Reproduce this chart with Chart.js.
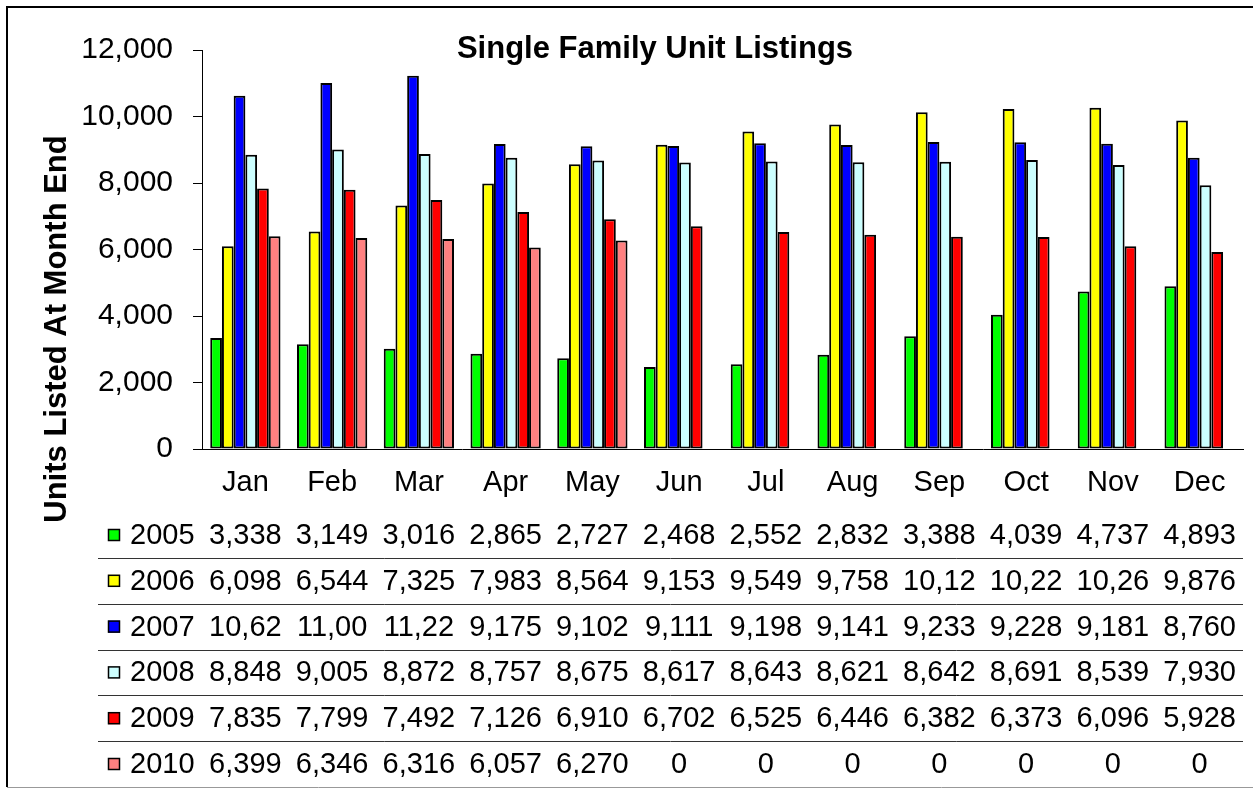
<!DOCTYPE html>
<html>
<head>
<meta charset="utf-8">
<script src="https://cdn.jsdelivr.net/npm/chart.js@4.4.0/dist/chart.umd.min.js"></script>
<style>
  body { margin: 0; background: #fff; }
  canvas { display: block; }
</style>
</head>
<body>
<canvas id="listingsChart" width="1253" height="789"></canvas>
<script>
const months = ['Jan', 'Feb', 'Mar', 'Apr', 'May', 'Jun', 'Jul', 'Aug', 'Sep', 'Oct', 'Nov', 'Dec'];
const years = ['2005', '2006', '2007', '2008', '2009', '2010'];

const units2005 = [3338, 3149, 3016, 2865, 2727, 2468, 2552, 2832, 3388, 4039, 4737, 4893];
const units2006 = [6098, 6544, 7325, 7983, 8564, 9153, 9549, 9758, 10125, 10225, 10265, 9876];
const units2007 = [10625, 11005, 11225, 9175, 9102, 9111, 9198, 9141, 9233, 9228, 9181, 8760];
const units2008 = [8848, 9005, 8872, 8757, 8675, 8617, 8643, 8621, 8642, 8691, 8539, 7930];
const units2009 = [7835, 7799, 7492, 7126, 6910, 6702, 6525, 6446, 6382, 6373, 6096, 5928];
const units2010 = [6399, 6346, 6316, 6057, 6270, 0, 0, 0, 0, 0, 0, 0];

const yTicks = [0, 2000, 4000, 6000, 8000, 10000, 12000];

const seriesValues = [units2005, units2006, units2007, units2008, units2009, units2010];
const seriesColors = ['#00ff00', '#ffff00', '#0000ff', '#ccffff', '#ff0000', '#ff8080'];

const FONT = '"Liberation Sans", Arial, sans-serif';

// plot area bounds
const PLOT_LEFT = 202;
const PLOT_RIGHT = 1243;
const PLOT_TOP = 50;
const PLOT_BOTTOM = 449;

function fmt(v) {
    return v.toLocaleString('en-US');
}

// frame, title, rotated axis title and the data table underneath
const decorations = {
    id: 'decorations',
    afterDraw(chart) {
        const ctx = chart.ctx;
        const x = chart.scales.x;
        ctx.save();

        // outer frame
        ctx.strokeStyle = '#000';
        ctx.lineWidth = 2;
        ctx.beginPath();
        ctx.moveTo(1253, 7);
        ctx.lineTo(7, 7);
        ctx.lineTo(7, 787);
        ctx.stroke();
        ctx.strokeStyle = '#999';
        ctx.lineWidth = 1;
        ctx.beginPath();
        ctx.moveTo(7, 787.5);
        ctx.lineTo(1253, 787.5);
        ctx.stroke();

        // chart title
        ctx.fillStyle = '#000';
        ctx.font = 'bold 31px ' + FONT;
        ctx.textAlign = 'center';
        ctx.textBaseline = 'middle';
        ctx.fillText('Single Family Unit Listings', 655, 49);

        // axis title
        ctx.save();
        ctx.translate(57, 329);
        ctx.rotate(-Math.PI / 2);
        ctx.font = 'bold 31px ' + FONT;
        ctx.fillText('Units Listed At Month End', 0, 0);
        ctx.restore();

        // data table
        const rowH = 45.8;
        const firstRow = 535;
        const cellW = x.width / months.length;
        ctx.font = '29px ' + FONT;
        seriesValues.forEach((vals, r) => {
            const cy = firstRow + r * rowH;

            ctx.fillStyle = seriesColors[r];
            ctx.fillRect(108, cy - 6, 12, 12);
            ctx.strokeStyle = '#000';
            ctx.lineWidth = 1.5;
            ctx.strokeRect(108.5, cy - 5.5, 11, 11);

            ctx.fillStyle = '#000';
            ctx.textAlign = 'left';
            ctx.fillText(years[r], 130, cy + 1);

            ctx.textAlign = 'center';
            vals.forEach((v, i) => {
                let s = fmt(v);
                while (s.length > 1 && ctx.measureText(s).width > cellW - 6) {
                    s = s.slice(0, -1);
                }
                ctx.fillText(s, x.getPixelForValue(i), cy + 1);
            });

            if (r < seriesValues.length - 1) {
                const ly = Math.round(cy + rowH / 2) + 0.5;
                ctx.strokeStyle = '#333';
                ctx.lineWidth = 1;
                ctx.beginPath();
                ctx.moveTo(98, ly);
                ctx.lineTo(PLOT_RIGHT, ly);
                ctx.stroke();
            }
        });

        ctx.restore();
    }
};

new Chart(document.getElementById('listingsChart'), {
    type: 'bar',
    data: {
        labels: months,
        datasets: years.map((y, i) => ({
            label: y,
            data: seriesValues[i],
            backgroundColor: seriesColors[i],
            borderColor: '#000',
            borderWidth: 2,
            borderSkipped: false,
            categoryPercentage: 0.81,
            barPercentage: 1
        }))
    },
    options: {
        responsive: false,
        animation: false,
        devicePixelRatio: 1,
        layout: {
            padding: { left: 0, right: 1253 - PLOT_RIGHT, top: PLOT_TOP, bottom: 0 }
        },
        plugins: {
            legend: { display: false },
            title: { display: false },
            tooltip: { enabled: false }
        },
        scales: {
            x: {
                grid: { display: false, drawTicks: false },
                border: { display: true, color: '#000', width: 1 },
                ticks: {
                    color: '#000',
                    padding: 17,
                    font: { family: FONT, size: 29 }
                },
                afterFit(scale) {
                    scale.height = 789 - PLOT_BOTTOM;
                }
            },
            y: {
                min: 0,
                max: 12000,
                afterBuildTicks(scale) {
                    scale.ticks = yTicks.map(v => ({ value: v }));
                },
                grid: {
                    display: true,
                    drawOnChartArea: false,
                    drawTicks: true,
                    tickLength: 9,
                    color: '#000'
                },
                border: { display: true, color: '#000', width: 1 },
                ticks: {
                    color: '#000',
                    padding: 20,
                    font: { family: FONT, size: 30 },
                    callback: v => fmt(v)
                },
                afterFit(scale) {
                    scale.width = PLOT_LEFT;
                }
            }
        }
    },
    plugins: [decorations]
});
</script>
</body>
</html>
